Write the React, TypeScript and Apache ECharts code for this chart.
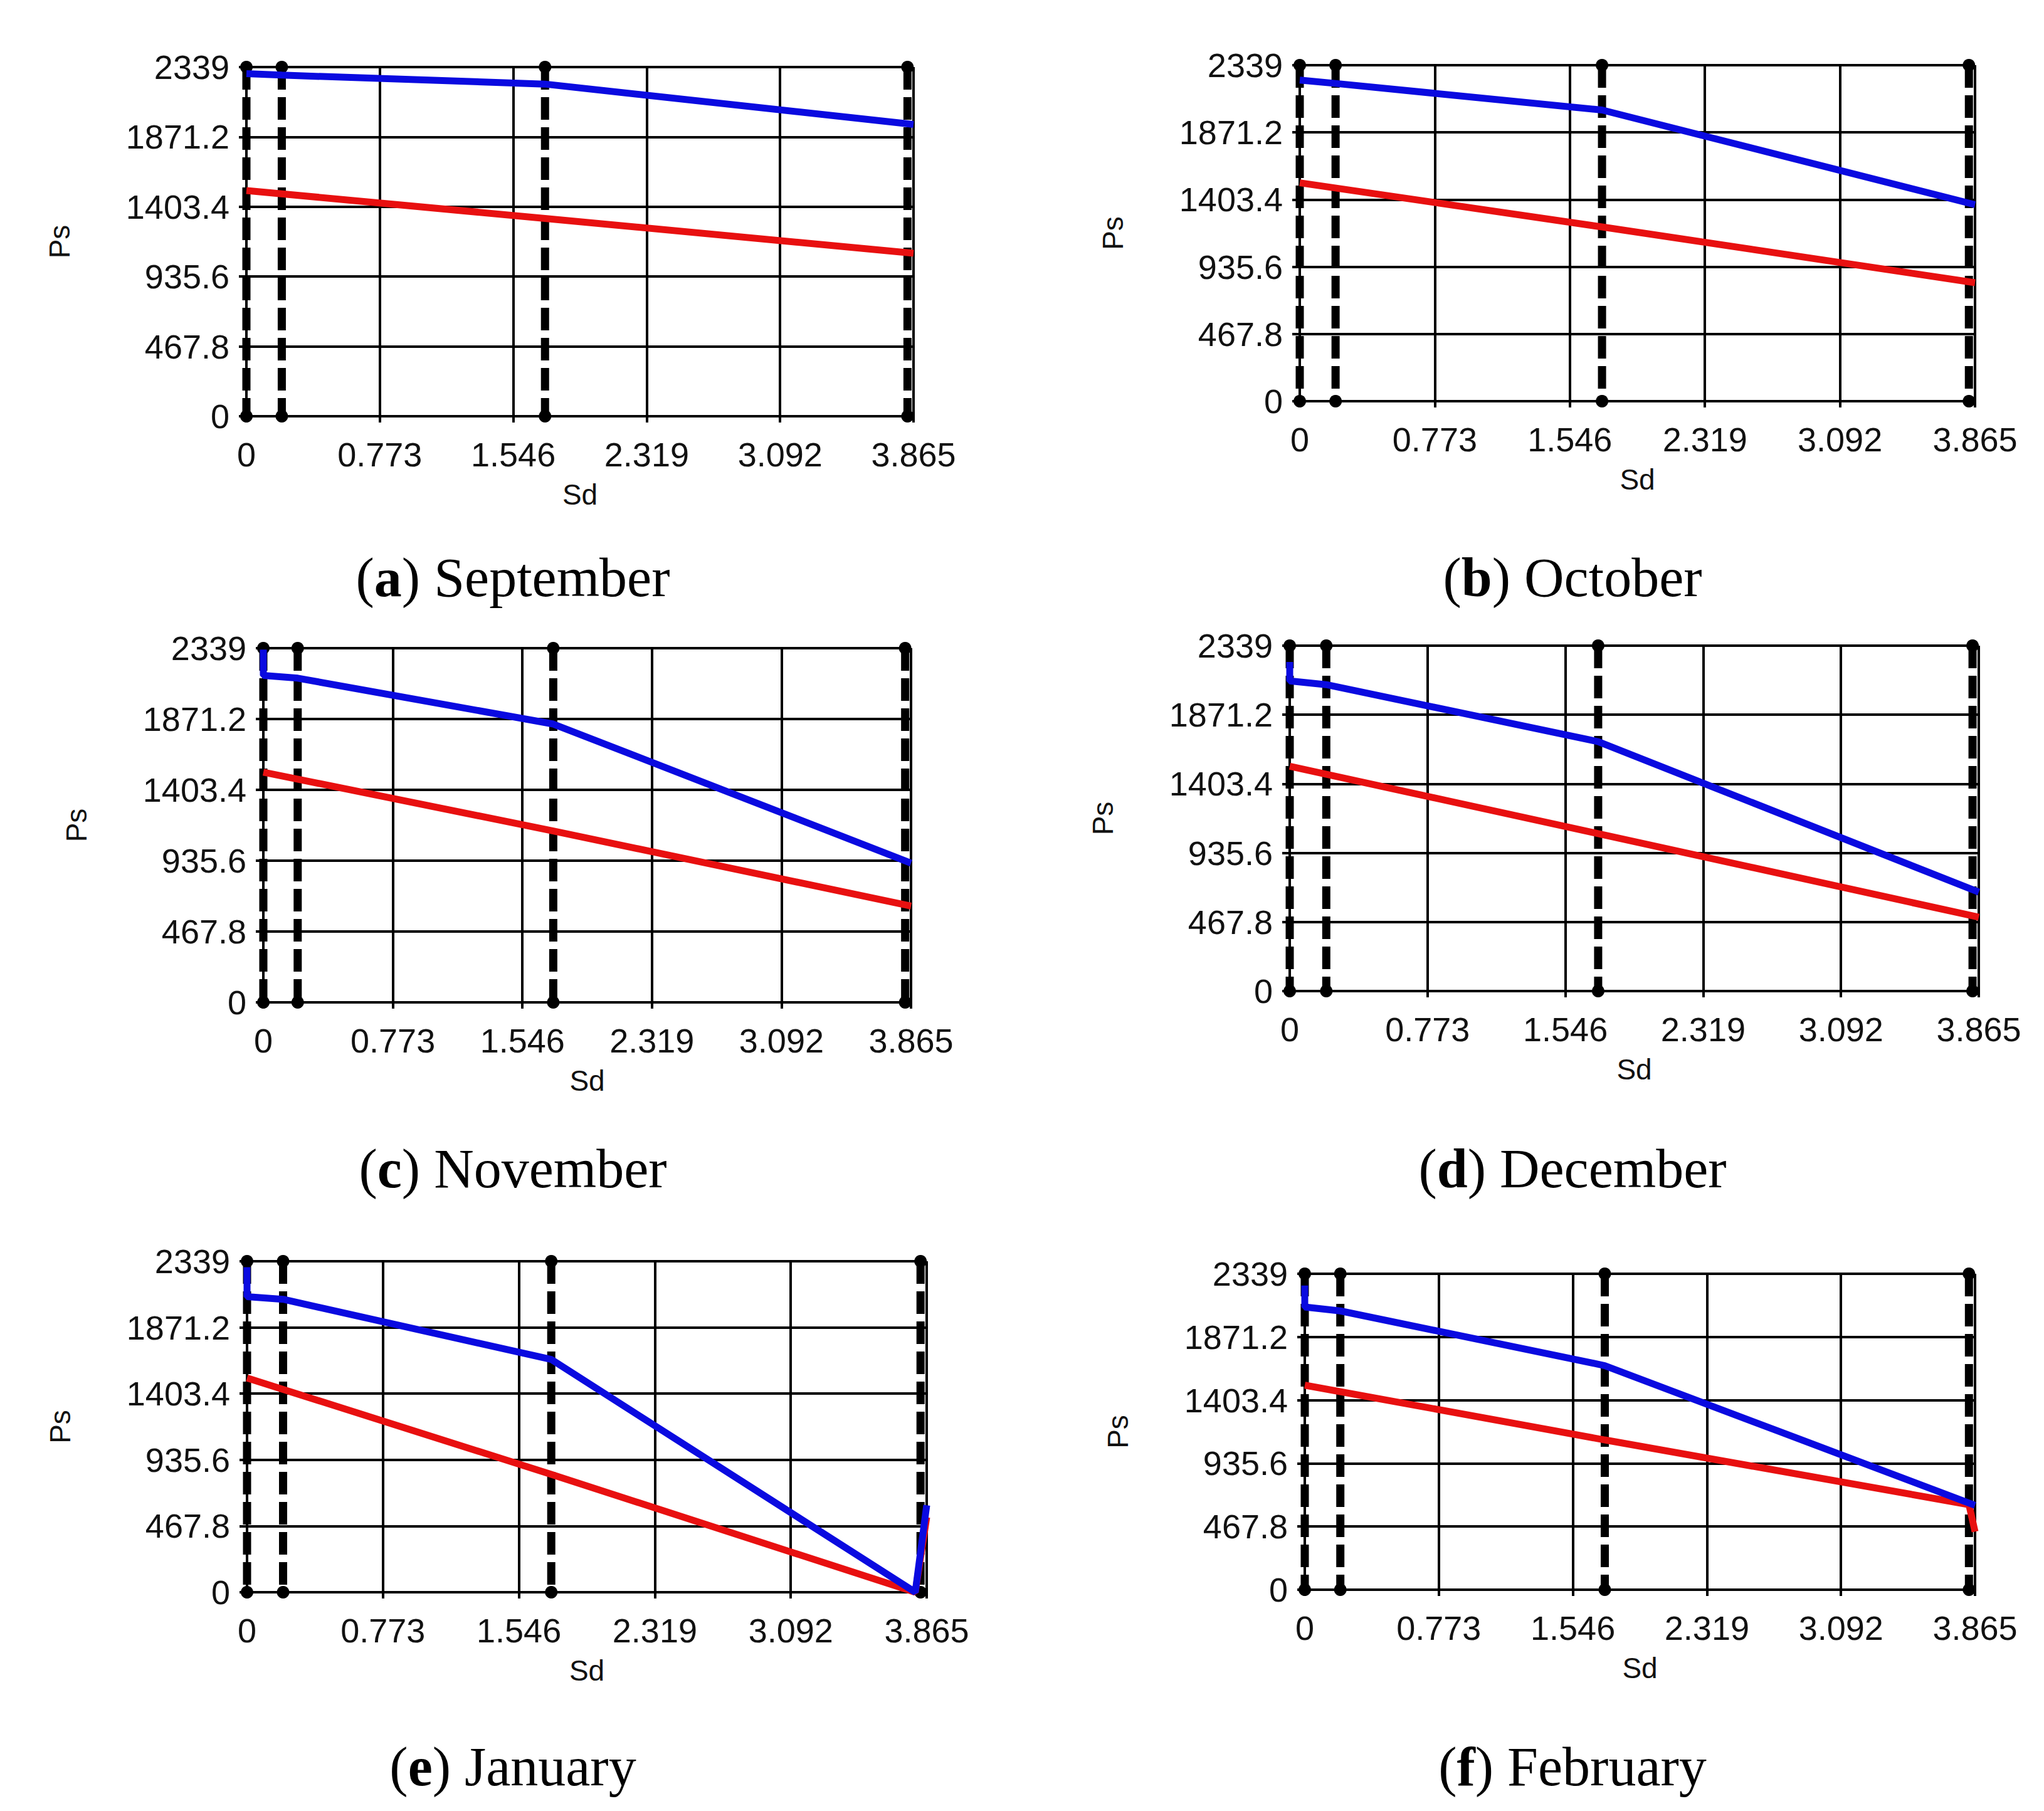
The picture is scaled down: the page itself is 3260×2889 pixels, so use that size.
import React, { useEffect, useRef } from "react";
import * as echarts from "echarts";

// ---- tick labels ----
const xTickLabels = ["0", "0.773", "1.546", "2.319", "3.092", "3.865"];
const yTickLabels = ["0", "467.8", "935.6", "1403.4", "1871.2", "2339"];
const X_MAX = 3.865;
const X_STEP = 0.773;
const Y_MAX = 2339;
const Y_STEP = 467.8;

// ---- dashed reference lines (Sd positions) ----
const dashedX = [0, 0.205, 1.73, 3.83];

// ---- panel captions ----
const panelLetters = ["a", "b", "c", "d", "e", "f"];
const panelMonths = ["September", "October", "November", "December", "January", "February"];

// ---- series values [Sd, Ps] ----
const sepBlue = [[0, 2295], [0.205, 2285], [1.73, 2225], [3.865, 1955]];
const sepRed = [[0, 1512], [1.73, 1325], [3.865, 1092]];

const octBlue = [[0, 2235], [0.205, 2212], [1.73, 2027], [3.865, 1368]];
const octRed = [[0, 1520], [1.73, 1213], [3.865, 825]];

const novBlue = [[0, 2330], [0, 2159], [0.205, 2141], [1.73, 1838], [3.865, 920]];
const novRed = [[0, 1520], [1.73, 1132], [3.865, 636]];

const decBlue = [[0, 2229], [0, 2100], [0.205, 2075], [1.73, 1689], [3.865, 670]];
const decRed = [[0, 1522], [1.73, 1066], [3.865, 500]];

const janBlue = [[0, 2297], [0, 2089], [0.205, 2070], [1.73, 1645], [3.8, 0], [3.865, 615]];
const janRed = [[0, 1514], [1.73, 833], [3.8, 0], [3.865, 530]];

const febBlue = [[0, 2252], [0, 2093], [0.205, 2064], [1.73, 1659], [3.865, 625]];
const febRed = [[0, 1514], [1.73, 1109], [3.83, 630], [3.865, 430]];

const blueSeries = [sepBlue, octBlue, novBlue, decBlue, janBlue, febBlue];
const redSeries = [sepRed, octRed, novRed, decRed, janRed, febRed];

// ---- layout (pixels) ----
const panelRects = [
  { left: 393, top: 107, width: 1064, height: 557 },
  { left: 2073, top: 104, width: 1077, height: 536 },
  { left: 420, top: 1034, width: 1033, height: 565 },
  { left: 2057, top: 1030, width: 1099, height: 551 },
  { left: 394, top: 2012, width: 1084, height: 528 },
  { left: 2081, top: 2032, width: 1069, height: 504 },
];
const captionPos = [
  { x: 818, y: 921 },
  { x: 2508, y: 921 },
  { x: 818, y: 1864 },
  { x: 2508, y: 1864 },
  { x: 818, y: 2818 },
  { x: 2508, y: 2818 },
];

const BLUE = "#0a0ae0";
const RED = "#e81010";
const INK = "#111111";

export default function App() {
  const ref = useRef<HTMLDivElement>(null);

  useEffect(() => {
    if (!ref.current) return;
    const chart = echarts.init(ref.current, undefined, { renderer: "svg" });

    const grid: any[] = [];
    const xAxis: any[] = [];
    const yAxis: any[] = [];
    const series: any[] = [];
    const graphic: any[] = [];

    panelRects.forEach((r, i) => {
      grid.push({ left: r.left, top: r.top, width: r.width, height: r.height, containLabel: false });
      xAxis.push({
        type: "value",
        gridIndex: i,
        min: 0,
        max: X_MAX,
        interval: X_STEP,
        axisLine: { show: true, onZero: false, lineStyle: { color: "#000", width: 4 } },
        axisTick: { show: true, length: 10, lineStyle: { color: "#000", width: 4 } },
        splitLine: { show: true, lineStyle: { color: "#000", width: 4 } },
        axisLabel: {
          show: true,
          margin: 34,
          fontSize: 54,
          fontFamily: "Liberation Sans, Arial, sans-serif",
          color: INK,
          formatter: (v: number) => xTickLabels[Math.round(v / X_STEP)] ?? "",
        },
      });
      yAxis.push({
        type: "value",
        gridIndex: i,
        min: 0,
        max: Y_MAX,
        interval: Y_STEP,
        axisLine: { show: true, onZero: false, lineStyle: { color: "#000", width: 4 } },
        axisTick: { show: true, length: 12, lineStyle: { color: "#000", width: 4 } },
        splitLine: { show: true, lineStyle: { color: "#000", width: 4 } },
        axisLabel: {
          show: true,
          margin: 27,
          fontSize: 54,
          fontFamily: "Liberation Sans, Arial, sans-serif",
          color: INK,
          formatter: (v: number) => yTickLabels[Math.round(v / Y_STEP)] ?? "",
        },
      });

      dashedX.forEach((dx) => {
        series.push({
          type: "line",
          xAxisIndex: i,
          yAxisIndex: i,
          data: [[dx, Y_MAX], [dx, 0]],
          symbol: "circle",
          symbolSize: 20,
          showSymbol: true,
          itemStyle: { color: "#000" },
          lineStyle: { color: "#000", width: 13, type: [36, 12], cap: "butt" },
          clip: false,
          z: 3,
          silent: true,
        });
      });

      series.push({
        type: "line",
        xAxisIndex: i,
        yAxisIndex: i,
        data: redSeries[i],
        symbol: "none",
        lineStyle: { color: RED, width: 11 },
        clip: false,
        z: 4,
      });
      series.push({
        type: "line",
        xAxisIndex: i,
        yAxisIndex: i,
        data: blueSeries[i],
        symbol: "none",
        lineStyle: { color: BLUE, width: 11 },
        clip: false,
        z: 5,
      });

      graphic.push({
        type: "text",
        x: r.left + r.width / 2,
        y: r.top + r.height + 125,
        style: {
          text: "Sd",
          fontSize: 46,
          fontFamily: "Liberation Sans, Arial, sans-serif",
          fill: INK,
          align: "center",
          verticalAlign: "middle",
        },
      });
      graphic.push({
        type: "text",
        x: r.left - 298,
        y: r.top + r.height / 2,
        rotation: Math.PI / 2,
        style: {
          text: "Ps",
          fontSize: 46,
          fontFamily: "Liberation Sans, Arial, sans-serif",
          fill: INK,
          align: "center",
          verticalAlign: "middle",
        },
      });
      const c = captionPos[i];
      graphic.push({
        type: "text",
        x: c.x,
        y: c.y,
        style: {
          text: `{n|(}{b|${panelLetters[i]}}{n|) ${panelMonths[i]}}`,
          align: "center",
          verticalAlign: "middle",
          rich: {
            n: { fontSize: 88, fontFamily: "Liberation Serif, Times New Roman, serif", fill: "#000" },
            b: {
              fontSize: 88,
              fontWeight: "bold",
              fontFamily: "Liberation Serif, Times New Roman, serif",
              fill: "#000",
            },
          },
        },
      });
    });

    chart.setOption({
      animation: false,
      backgroundColor: "#ffffff",
      grid,
      xAxis,
      yAxis,
      series,
      graphic,
    });

    return () => chart.dispose();
  }, []);

  return (
    <div
      ref={ref}
      style={{ position: "absolute", left: 0, top: 0, width: 3260, height: 2889, background: "#fff" }}
    />
  );
}
